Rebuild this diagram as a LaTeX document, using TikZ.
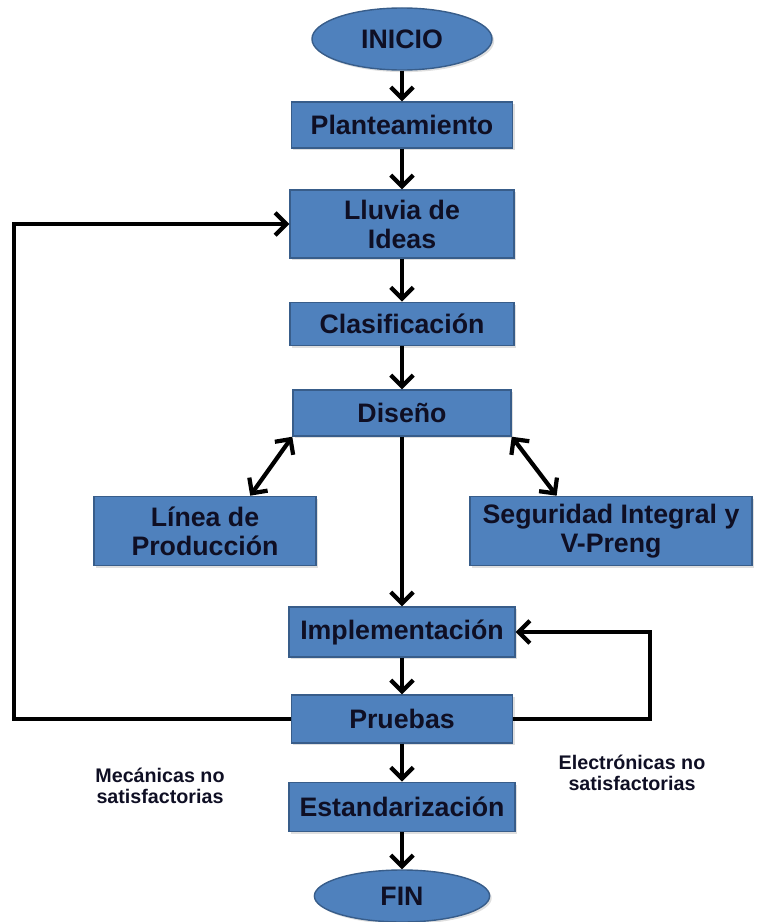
\documentclass[tikz,border=0pt]{standalone}
\usepackage{fontspec}
\setmainfont{Liberation Sans}
\usetikzlibrary{arrows.meta,shapes.geometric,shadows}
\definecolor{azulcaja}{HTML}{4F81BD}
\definecolor{azulborde}{HTML}{385D8A}
\definecolor{letra}{HTML}{0F0F24}
\begin{document}
\begin{tikzpicture}[x=0.025cm,y=-0.025cm,
	paso/.style={rectangle, draw=azulborde, line width=1pt, fill=azulcaja, text=letra,
		font=\bfseries\fontsize{19}{20.6}\selectfont, align=center, inner sep=0pt,
		minimum height=1.15cm, drop shadow={opacity=0.25,shadow xshift=1.5pt,shadow yshift=-1.5pt}},
	extremo/.style={paso, ellipse, minimum width=4.5cm, minimum height=1.55cm},
	flecha/.style={line width=3pt, -{Straight Barb[length=8pt,width=16pt]}},
	doble/.style={line width=3pt, {Straight Barb[length=8pt,width=16pt]}-{Straight Barb[length=8pt,width=16pt]}},
	nota/.style={font=\bfseries\fontsize{14}{14.5}\selectfont, align=center, text=letra}]
				\useasboundingbox (0,0) rectangle (768,922);
				\node[extremo] (ini) at (402,39) {INICIO};
				\node[paso, minimum width=5.53cm] (plan) at (402,125) {Planteamiento};
				\node[paso, minimum width=5.6cm, minimum height=1.7cm] (lluv) at (402,224) {Lluvia de\\Ideas};
				\node[paso, minimum width=5.6cm, minimum height=1.08cm] (clas) at (402,324) {Clasificación};
				\node[paso, minimum width=5.45cm] (dis) at (402,413) {Diseño};
				\node[paso, minimum width=5.55cm, minimum height=1.73cm] (lin) at (205,531) {Línea de\\Producción};
				\node[paso, minimum width=7.05cm, minimum height=1.73cm] (seg) at (611,531) {Seguridad Integral y\\V-Preng};
				\node[paso, minimum width=5.65cm, minimum height=1.25cm] (imp) at (402,632) {Implementación};
				\node[paso, minimum width=5.53cm, minimum height=1.2cm] (pru) at (402,719) {Pruebas};
				\node[paso, minimum width=5.65cm, minimum height=1.23cm] (est) at (402,807) {Estandarización};
				\node[extremo, minimum width=4.38cm, minimum height=1.3cm] (fin) at (402,896) {FIN};
				\node[nota] (mec) at (160,786) {Mecánicas no\\satisfactorias};
				\node[nota] (ele) at (632,773) {Electrónicas no\\satisfactorias};
				\draw[flecha] (ini) -- (plan);
				\draw[flecha] (plan) -- (lluv);
				\draw[flecha] (lluv) -- (clas);
				\draw[flecha] (clas) -- (dis);
				\draw[flecha] (dis) -- (imp);
				\draw[flecha] (imp) -- (pru);
				\draw[flecha] (pru) -- (est);
				\draw[flecha] (est) -- (fin);
				\draw[doble] (dis.south west) -- (lin.38);
				\draw[doble] (dis.south east) -- (seg.147);
				\draw[flecha] (pru.west) -- ++(-277,0) |- (lluv.west);
				\draw[flecha] (pru.east) -- ++(137,0) |- (imp.east);
			\end{tikzpicture}
\end{document}
